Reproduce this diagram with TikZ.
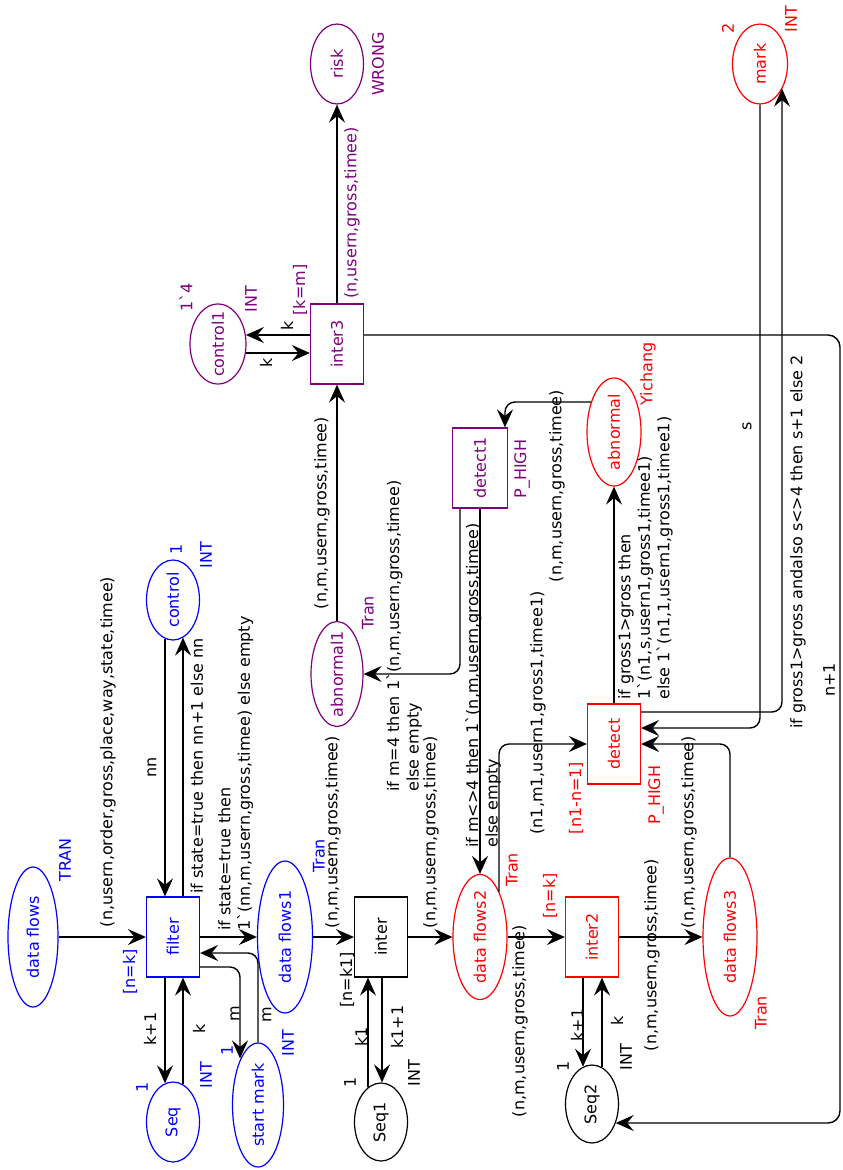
\documentclass[tikz,border=0pt]{standalone}
\usepackage{fontspec}
\setmainfont{DejaVu Sans}[Ligatures=TeXOff]
\usepackage{graphicx}
\usetikzlibrary{arrows.meta,shapes.geometric}
\definecolor{cpnblue}{RGB}{0,0,255}
\definecolor{cpnred}{RGB}{255,0,0}
\definecolor{cpnpurple}{RGB}{128,0,128}
\newcommand{\rt}[1]{\rotatebox{90}{\makebox[0pt]{#1}}}
\newcommand{\bq}{\symbol{96}}
\begin{document}
\begin{tikzpicture}[x=1pt,y=-1pt,
  every node/.style={font=\fontsize{16}{19.5}\selectfont},
  place/.style={ellipse, draw, line width=1.2pt, inner sep=0pt, minimum width=53pt, minimum height=80pt},
  trans/.style={rectangle, draw, line width=1.2pt, inner sep=0pt, minimum width=53pt, minimum height=80pt},
  lbl/.style={rotate=90, inner sep=0pt},
  mlbl/.style={rotate=90, inner sep=0pt, align=left, anchor=north west},
  arc/.style={line width=1.4pt, rounded corners=10pt, -{Stealth[length=18pt,width=16pt,inset=6.5pt]}},
  bl/.style={draw=cpnblue, text=cpnblue},
  rd/.style={draw=cpnred, text=cpnred},
  pu/.style={draw=cpnpurple, text=cpnpurple},
  bk/.style={draw=black, text=black},
  tbl/.style={lbl, text=cpnblue},
  trd/.style={lbl, text=cpnred},
  tpu/.style={lbl, text=cpnpurple}
]
\useasboundingbox (0,0) rectangle (843,1170);

% places
\node[place,bl,minimum width=50pt,minimum height=140pt] (df) at (33,937) {\rt{data flows}};
\node[place,bl] (seq) at (173,1122) {\rt{Seq}};
\node[place,bl,minimum width=51pt,minimum height=124pt] (sm) at (258,1105) {\rt{start mark}};
\node[place,bl] (ctrl) at (173,600) {\rt{control}};
\node[place,bl,minimum width=55pt,minimum height=152pt] (df1) at (285,937) {\rt{data flows1}};
\node[place,bk,minimum height=78pt] (seq1) at (381,1122) {\rt{Seq1}};
\node[place,rd,minimum width=54pt,minimum height=125pt] (df2) at (480,937) {\rt{data flows2}};
\node[place,bk,minimum height=78pt] (seq2) at (592,1104) {\rt{Seq2}};
\node[place,rd,minimum width=54pt,minimum height=158pt] (df3) at (730,937) {\rt{data flows3}};
\node[place,rd,minimum width=54pt,minimum height=108pt] (abn) at (614,432) {\rt{abnormal}};
\node[place,pu,minimum width=52pt,minimum height=105pt] (abn1) at (337,674) {\rt{abnormal1}};
\node[place,pu] (risk) at (337,64) {\rt{risk}};
\node[place,pu,minimum width=56pt] (ctrl1) at (218,344) {\rt{control1}};
\node[place,rd,minimum width=55pt] (mark) at (760,64) {\rt{mark}};

% transitions
\node[trans,bl] (filter) at (173,937) {\rt{filter}};
\node[trans,bk] (inter) at (381,937) {\rt{inter}};
\node[trans,rd] (inter2) at (592,937) {\rt{inter2}};
\node[trans,rd] (detect) at (614,744) {\rt{detect}};
\node[trans,pu,minimum width=55pt] (detect1) at (480,468) {\rt{detect1}};
\node[trans,pu] (inter3) at (337,344) {\rt{inter3}};

% arcs
\draw[arc] (df.east) -- (filter.west);
\draw[arc] ([xshift=-8pt,yshift=1.9pt]ctrl.south) -- ([xshift=-8pt]filter.north);
\draw[arc] ([xshift=10pt]filter.north) -- ([xshift=10pt,yshift=3pt]ctrl.south);
\draw[arc] ([xshift=-8pt]filter.south) -- ([xshift=-8pt,yshift=-1.9pt]seq.north);
\draw[arc] ([xshift=10pt,yshift=-3pt]seq.north) -- ([xshift=10pt]filter.south);
\draw[arc] ([yshift=-30pt]filter.east) -| ([xshift=-18pt,yshift=-16pt]sm.north);
\draw[arc] (sm.north) |- ([yshift=-16pt]filter.east);
\draw[arc] (filter.east) -- (df1.west);
\draw[arc] (df1.east) -- (inter.west);
\draw[arc] ([xshift=1pt]inter.south) -- ([xshift=1pt]seq1.north);
\draw[arc] ([xshift=-13pt,yshift=-5pt]seq1.north) -- ([xshift=-13pt]inter.south);
\draw[arc] (inter.east) -- (df2.west);
\draw[arc] (df2.east) -- (inter2.west);
\draw[arc] (inter2.east) -- (df3.west);
\draw[arc] ([xshift=-9pt]inter2.south) -- ([xshift=-9pt,yshift=-2.3pt]seq2.north);
\draw[arc] ([xshift=10pt,yshift=-2.9pt]seq2.north) -- ([xshift=10pt]inter2.south);
\coordinate (loopR) at (840,700);
\draw[arc,rounded corners=12pt] ([yshift=9pt]inter3.east) -| (loopR) |- ([xshift=-3.4pt,yshift=-19pt]seq2.east);
\draw[arc] (mark.south) |- ([yshift=16pt]detect.east);
\draw[arc] ([yshift=32pt]detect.east) -| ([xshift=22pt,yshift=16pt]mark.south);
\draw[arc] (detect.north) -- (abn.south);
\draw[arc] ([xshift=4.6pt,yshift=30pt]abn.west) -| ([xshift=25pt]detect1.north);
\draw[arc] ([xshift=-20pt]detect1.south) |- (abn1.east);
\draw[arc] (detect1.south) -- (df2.north);
\draw[arc] ([xshift=19pt,yshift=-18pt]df2.north) |- (detect.west);
\draw[arc] (df3.north) |- (detect.east);
\draw[arc] (abn1.north) -- (inter3.south);
\draw[arc] (inter3.north) -- (risk.south);
\draw[arc] ([yshift=9pt]inter3.west) -- ([xshift=-0.7pt,yshift=9pt]ctrl1.east);
\draw[arc] ([xshift=-0.7pt,yshift=-9pt]ctrl1.east) -- ([yshift=-9pt]inter3.west);

% arc inscriptions
\node[lbl] (a1) at (108,752) {(n,usern,order,gross,place,way,state,timee)};
\node[lbl] (a2) at (152,767) {nn};
\node[lbl] (a3) at (197,766) {if state=true then nn+1 else nn};
\node[lbl] (a4) at (150,1029) {k+1};
\node[lbl] (a5) at (199,1029) {k};
\node[lbl] (a6) at (235,1014) {m};
\node[lbl] (a7) at (267,1015) {m};
\node[mlbl] (a8) at (218,931) {if state=true then\\1\bq(nn,m,usern,gross,timee) else empty};
\node[lbl] (a9) at (333,832) {(n,m,usern,gross,timee)};
\node[lbl] (a10) at (361,1037) {k1};
\node[lbl] (a11) at (397,1027) {k1+1};
\node[lbl] (a12) at (431,832) {(n,m,usern,gross,timee)};
\node[lbl] (a13) at (520,1021) {(n,m,usern,gross,timee)};
\node[lbl] (a14) at (577,1025) {k+1};
\node[lbl] (a15) at (617,1021) {k};
\node[lbl] (a16) at (652,955) {(n,m,usern,gross,timee)};
\node[lbl] (a17) at (689,832) {(n,m,usern,gross,timee)};
\node[lbl] (a18) at (538,713) {(n1,m1,usern1,gross1,timee1)};
\node[lbl] (a19) at (557,486) {(n,m,usern,gross,timee)};
\node[mlbl] (a20) at (386,792) {if m=4 then 1\bq(n,m,usern,gross,timee)\\else empty};
\node[mlbl] (a21) at (465,848) {if m<>4 then 1\bq(n,m,usern,gross,timee)\\else empty};
\node[mlbl] (a22) at (618,700) {if gross1>gross then\\1\bq(n1,s,usern1,gross1,timee1)\\else 1\bq(n1,1,usern1,gross1,timee1)};
\node[lbl] (a23) at (322,513) {(n,m,usern,gross,timee)};
\node[tpu] (a24) at (352,213) {(n,usern,gross,timee)};
\node[lbl] (a25) at (287,326) {k};
\node[lbl] (a26) at (266,363) {k};
\node[lbl] (a27) at (747,426) {s};
\node[lbl] (a28) at (798,542) {if gross1>gross andalso s<>4 then s+1 else 2};
\node[lbl] (a29) at (829,680) {n+1};

% place / transition inscriptions
\node[tbl] (i1) at (65,860) {TRAN};
\node[tbl] (i2) at (142,1087) {1};
\node[tbl] (i3) at (206,1075) {INT};
\node[tbl] (i4) at (227,1050) {1};
\node[tbl] (i5) at (288,1043) {INT};
\node[tbl] (i6) at (130,972) {[n=k]};
\node[tbl] (i7) at (176,549) {1};
\node[tbl] (i8) at (206,555) {INT};
\node[tbl] (i9) at (319,856) {Tran};
\node[lbl] (i10) at (347,980) {[n=k1]};
\node[lbl] (i11) at (350,1082) {1};
\node[lbl] (i12) at (414,1073) {INT};
\node[trd] (i13) at (512,870) {Tran};
\node[trd] (i14) at (550,896) {[n=k]};
\node[lbl] (i15) at (563,1066) {1};
\node[lbl] (i16) at (626,1057) {INT};
\node[trd] (i17) at (761,1013) {Tran};
\node[trd] (i18) at (576,798) {[n1-n=1]};
\node[trd] (i19) at (656,795) {P\_HIGH};
\node[trd] (i20) at (648,374) {Yichang};
\node[tpu] (i21) at (522,469) {P\_HIGH};
\node[tpu] (i22) at (368,613) {Tran};
\node[tpu] (i23) at (300,290) {[k=m]};
\node[tpu] (i24) at (378,64) {WRONG};
\node[tpu] (i25) at (186,297) {1\bq4};
\node[tpu] (i26) at (251,299) {INT};
\node[trd] (i27) at (728,28) {2};
\node[trd] (i28) at (791,19) {INT};
\end{tikzpicture}
\end{document}
